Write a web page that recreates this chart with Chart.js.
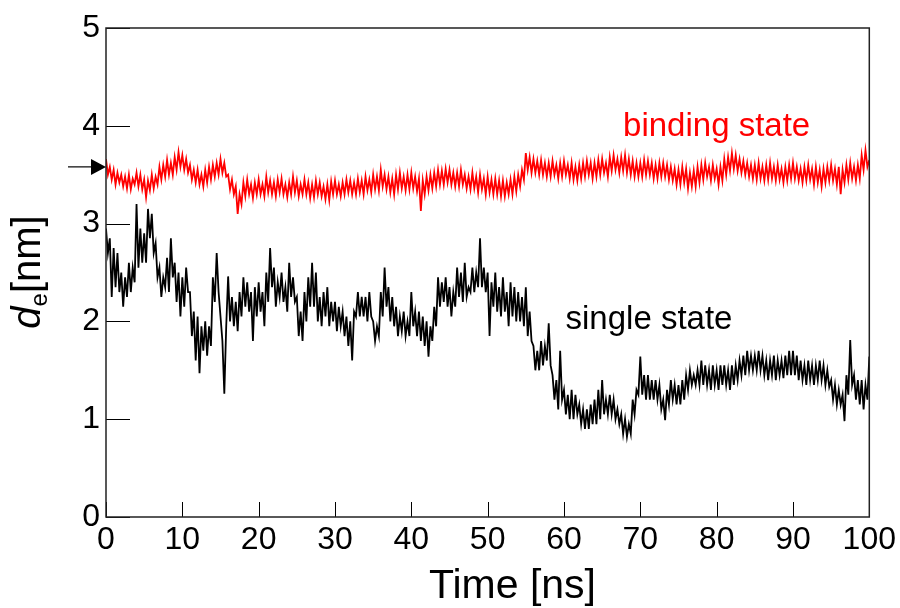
<!DOCTYPE html>
<html>
<head>
<meta charset="utf-8">
<script src="https://cdn.jsdelivr.net/npm/chart.js@4.4.1/dist/chart.umd.min.js"></script>
<style>
  html, body { margin: 0; padding: 0; background: #fff; }
  #wrap { width: 900px; height: 608px; }
</style>
</head>
<body>
<div id="wrap"><canvas id="chart" width="900" height="608"></canvas></div>
<script>
// sampling step of both traces, ns
const timeStep = 0.25;

// binding state (red), one row per ns, values in nm
const bindingState = [
  3.66, 3.50, 3.58, 3.45,  3.55, 3.40, 3.52, 3.42,  3.50, 3.38, 3.48, 3.36,  3.50, 3.35, 3.46, 3.40,
  3.52, 3.38, 3.50, 3.35,  3.45, 3.27, 3.44, 3.34,  3.50, 3.36, 3.48, 3.40,  3.58, 3.45, 3.60, 3.48,
  3.65, 3.50, 3.62, 3.50,  3.68, 3.55, 3.73, 3.58,  3.70, 3.55, 3.66, 3.52,  3.60, 3.45, 3.55, 3.42,
  3.55, 3.40, 3.50, 3.38,  3.55, 3.42, 3.58, 3.45,  3.60, 3.48, 3.62, 3.50,  3.66, 3.52, 3.62, 3.48,
  3.50, 3.35, 3.45, 3.30,  3.38, 3.10, 3.30, 3.20,  3.42, 3.28, 3.45, 3.30,  3.40, 3.26, 3.42, 3.30,
  3.45, 3.30, 3.40, 3.28,  3.48, 3.32, 3.44, 3.30,  3.42, 3.28, 3.45, 3.32,  3.46, 3.30, 3.40, 3.27,
  3.42, 3.30, 3.48, 3.32,  3.44, 3.28, 3.40, 3.30,  3.45, 3.30, 3.42, 3.26,  3.40, 3.27, 3.44, 3.30,
  3.42, 3.28, 3.38, 3.25,  3.40, 3.24, 3.43, 3.30,  3.44, 3.30, 3.40, 3.28,  3.42, 3.30, 3.45, 3.32,
  3.44, 3.30, 3.42, 3.30,  3.46, 3.32, 3.44, 3.30,  3.48, 3.34, 3.45, 3.32,  3.50, 3.35, 3.48, 3.34,
  3.55, 3.38, 3.50, 3.35,  3.48, 3.32, 3.46, 3.30,  3.50, 3.35, 3.52, 3.36,  3.48, 3.34, 3.50, 3.35,
  3.52, 3.36, 3.48, 3.33,  3.46, 3.13, 3.44, 3.30,  3.48, 3.34, 3.50, 3.36,  3.52, 3.38, 3.55, 3.40,
  3.54, 3.40, 3.56, 3.42,  3.55, 3.40, 3.52, 3.38,  3.52, 3.38, 3.55, 3.40,  3.50, 3.36, 3.48, 3.35,
  3.52, 3.36, 3.48, 3.32,  3.50, 3.35, 3.46, 3.30,  3.48, 3.32, 3.45, 3.30,  3.46, 3.30, 3.44, 3.28,
  3.44, 3.28, 3.42, 3.30,  3.45, 3.30, 3.48, 3.33,  3.50, 3.38, 3.55, 3.45,  3.72, 3.55, 3.68, 3.52,
  3.66, 3.52, 3.64, 3.50,  3.65, 3.50, 3.62, 3.48,  3.62, 3.48, 3.64, 3.50,  3.60, 3.46, 3.62, 3.48,
  3.64, 3.50, 3.60, 3.46,  3.62, 3.45, 3.58, 3.44,  3.60, 3.46, 3.62, 3.48,  3.64, 3.50, 3.62, 3.46,
  3.62, 3.48, 3.65, 3.50,  3.66, 3.52, 3.62, 3.48,  3.68, 3.54, 3.70, 3.55,  3.66, 3.52, 3.68, 3.54,
  3.70, 3.52, 3.66, 3.50,  3.64, 3.48, 3.62, 3.48,  3.62, 3.48, 3.65, 3.50,  3.64, 3.50, 3.62, 3.46,
  3.60, 3.46, 3.62, 3.48,  3.62, 3.48, 3.60, 3.45,  3.58, 3.44, 3.56, 3.40,  3.55, 3.40, 3.58, 3.42,
  3.56, 3.36, 3.52, 3.38,  3.54, 3.38, 3.58, 3.42,  3.60, 3.45, 3.62, 3.48,  3.58, 3.44, 3.60, 3.46,
  3.56, 3.40, 3.58, 3.44,  3.66, 3.50, 3.68, 3.54,  3.72, 3.56, 3.70, 3.54,  3.66, 3.52, 3.64, 3.50,
  3.62, 3.48, 3.60, 3.46,  3.60, 3.45, 3.62, 3.46,  3.58, 3.44, 3.60, 3.45,  3.62, 3.46, 3.58, 3.44,
  3.60, 3.45, 3.56, 3.42,  3.58, 3.44, 3.60, 3.46,  3.62, 3.46, 3.58, 3.44,  3.56, 3.42, 3.58, 3.44,
  3.60, 3.45, 3.56, 3.40,  3.58, 3.42, 3.55, 3.38,  3.56, 3.42, 3.58, 3.44,  3.60, 3.44, 3.56, 3.40,
  3.58, 3.30, 3.55, 3.42,  3.60, 3.45, 3.62, 3.46,  3.58, 3.44, 3.60, 3.46,  3.70, 3.55, 3.75, 3.58,
  3.65
];

// single state (black)
const singleState = [
  2.95, 2.70, 2.85, 2.25,  2.75, 2.35, 2.70, 2.30,  2.50, 2.15, 2.45, 2.25,  2.60, 2.30, 2.55, 2.40,
  3.20, 2.55, 2.95, 2.60,  2.90, 2.60, 3.15, 2.85,  3.10, 2.70, 2.80, 2.45,  2.55, 2.25, 2.45, 2.35,
  2.65, 2.30, 2.85, 2.45,  2.60, 2.20, 2.50, 2.05,  2.45, 2.15, 2.55, 2.30,  2.30, 1.85, 2.10, 1.60,
  2.05, 1.47, 1.95, 1.70,  2.00, 1.65, 1.95, 1.75,  2.45, 2.20, 2.70, 2.30,  2.05, 1.80, 1.26, 1.95,
  2.46, 2.00, 2.25, 1.95,  2.20, 1.90, 2.30, 2.05,  2.45, 2.15, 2.40, 2.10,  2.30, 1.80, 2.35, 2.05,
  2.40, 2.10, 2.30, 1.95,  2.50, 2.20, 2.75, 2.35,  2.55, 2.15, 2.40, 2.25,  2.50, 2.20, 2.35, 2.10,
  2.60, 2.25, 2.45, 2.20,  2.25, 1.85, 2.10, 1.80,  2.30, 2.00, 2.45, 2.15,  2.60, 2.15, 2.50, 2.00,
  2.25, 1.95, 2.30, 2.05,  2.35, 1.95, 2.20, 2.00,  2.20, 1.90, 2.15, 1.95,  2.10, 1.85, 2.05, 1.75,
  2.00, 1.60, 2.10, 2.05,  2.30, 2.05, 2.25, 2.05,  2.25, 2.00, 2.30, 2.05,  2.00, 1.80, 1.95, 1.85,
  2.30, 2.05, 2.55, 2.15,  2.35, 2.00, 2.25, 1.95,  2.15, 1.85, 2.05, 1.90,  2.10, 1.85, 2.00, 1.85,
  2.30, 1.95, 2.10, 1.85,  2.10, 1.80, 2.05, 1.75,  2.00, 1.64, 1.95, 1.80,  2.15, 1.95, 2.45, 2.15,
  2.40, 2.20, 2.45, 2.15,  2.35, 2.05, 2.30, 2.15,  2.55, 2.25, 2.50, 2.20,  2.60, 2.25, 2.35, 2.30,
  2.55, 2.30, 2.50, 2.35,  2.85, 2.35, 2.55, 2.30,  2.50, 1.85, 2.40, 2.15,  2.50, 2.10, 2.35, 2.05,
  2.45, 2.10, 2.30, 1.95,  2.40, 2.05, 2.35, 2.00,  2.30, 2.00, 2.25, 1.95,  2.35, 1.85, 2.10, 1.80,
  1.75, 1.50, 1.70, 1.50,  1.80, 1.55, 1.75, 1.60,  1.98, 1.55, 1.45, 1.20,  1.40, 1.10, 1.70, 1.20,
  1.30, 1.05, 1.25, 1.00,  1.30, 1.00, 1.25, 1.05,  1.15, 0.95, 1.10, 0.90,  1.10, 0.90, 1.15, 0.95,
  1.20, 0.95, 1.30, 1.00,  1.40, 1.05, 1.20, 1.05,  1.25, 1.05, 1.20, 1.00,  1.10, 0.95, 1.05, 0.85,
  1.00, 0.82, 0.95, 0.85,  1.20, 1.05, 1.30, 1.25,  1.64, 1.25, 1.45, 1.20,  1.45, 1.20, 1.40, 1.20,
  1.40, 1.20, 1.35, 1.10,  1.20, 0.99, 1.30, 1.15,  1.40, 1.20, 1.35, 1.15,  1.35, 1.15, 1.40, 1.20,
  1.45, 1.30, 1.50, 1.35,  1.45, 1.35, 1.50, 1.35,  1.60, 1.35, 1.55, 1.35,  1.50, 1.30, 1.55, 1.35,
  1.50, 1.30, 1.55, 1.35,  1.55, 1.35, 1.50, 1.30,  1.55, 1.35, 1.55, 1.40,  1.60, 1.45, 1.65, 1.45,
  1.70, 1.50, 1.65, 1.50,  1.65, 1.50, 1.70, 1.50,  1.65, 1.45, 1.60, 1.40,  1.60, 1.45, 1.65, 1.40,
  1.60, 1.45, 1.60, 1.42,  1.65, 1.45, 1.70, 1.45,  1.70, 1.45, 1.65, 1.40,  1.60, 1.40, 1.55, 1.35,
  1.60, 1.40, 1.55, 1.35,  1.55, 1.40, 1.60, 1.40,  1.55, 1.35, 1.50, 1.33,  1.40, 1.20, 1.35, 1.15,
  1.30, 1.15, 1.25, 0.98,  1.45, 1.25, 1.81, 1.35,  1.45, 1.20, 1.40, 1.15,  1.40, 1.10, 1.35, 1.20,
  1.64
];

// axes and annotations
const xTicks = [0, 10, 20, 30, 40, 50, 60, 70, 80, 90, 100];
const yTicks = [0, 1, 2, 3, 4, 5];
const markerLevel = 3.58;   // arrow on the left axis
const bindingLabel = { text: 'binding state', x: 80, y: 3.9 };
const singleLabel = { text: 'single state', x: 60.2, y: 1.92 };

const FONT = '"Liberation Sans", Arial, Helvetica, sans-serif';

function toPoints(values) {
    return values.map((v, i) => ({ x: i * timeStep, y: v }));
}

// frame, inward ticks, arrow, titles and in-plot labels
const rootStyle = {
    id: 'rootStyle',
    afterDraw(chart) {
        const { ctx, chartArea: a, scales: { x, y } } = chart;
        ctx.save();

        ctx.strokeStyle = '#000';
        ctx.lineWidth = 1;
        xTicks.forEach(t => {
            const px = Math.round(x.getPixelForValue(t)) + 0.5;
            ctx.beginPath();
            ctx.moveTo(px, a.bottom);
            ctx.lineTo(px, a.bottom - 15);
            ctx.stroke();
        });
        yTicks.forEach(t => {
            const py = Math.round(y.getPixelForValue(t)) + 0.5;
            ctx.beginPath();
            ctx.moveTo(a.left, py);
            ctx.lineTo(a.left + 24, py);
            ctx.stroke();
        });

        ctx.strokeStyle = '#222';
        ctx.lineWidth = 1.5;
        ctx.strokeRect(a.left, a.top, a.right - a.left, a.bottom - a.top);

        // arrow marking the reference level
        const my = y.getPixelForValue(markerLevel);
        ctx.strokeStyle = '#000';
        ctx.lineWidth = 1.2;
        ctx.beginPath();
        ctx.moveTo(a.left - 38, my);
        ctx.lineTo(a.left - 10, my);
        ctx.stroke();
        ctx.fillStyle = '#000';
        ctx.beginPath();
        ctx.moveTo(a.left, my);
        ctx.lineTo(a.left - 15, my - 8);
        ctx.lineTo(a.left - 15, my + 8);
        ctx.closePath();
        ctx.fill();

        // in-plot labels
        ctx.font = '33px ' + FONT;
        ctx.textAlign = 'center';
        ctx.textBaseline = 'alphabetic';
        ctx.fillStyle = '#ff0000';
        ctx.fillText(bindingLabel.text, x.getPixelForValue(bindingLabel.x), y.getPixelForValue(bindingLabel.y));
        ctx.fillStyle = '#000';
        ctx.textAlign = 'left';
        ctx.fillText(singleLabel.text, x.getPixelForValue(singleLabel.x), y.getPixelForValue(singleLabel.y));

        // x title
        ctx.font = '41px ' + FONT;
        ctx.textAlign = 'right';
        ctx.fillText('Time [ns]', 596, 598);

        // y title: d_e[nm], rotated
        ctx.translate(40, 272);
        ctx.rotate(-Math.PI / 2);
        const parts = [
            { t: 'd', f: 'italic 40px ' + FONT, dy: 0 },
            { t: 'e', f: '24px ' + FONT, dy: 7 },
            { t: '[nm]', f: '40px ' + FONT, dy: 0 }
        ];
        let total = 0;
        parts.forEach(p => { ctx.font = p.f; total += ctx.measureText(p.t).width; });
        let cx = -total / 2;
        ctx.textAlign = 'left';
        parts.forEach(p => {
            ctx.font = p.f;
            ctx.fillText(p.t, cx, p.dy);
            cx += ctx.measureText(p.t).width;
        });

        ctx.restore();
    }
};

new Chart(document.getElementById('chart'), {
    type: 'line',
    data: {
        datasets: [
            {
                label: 'binding state',
                data: toPoints(bindingState),
                borderColor: '#ff0000',
                borderWidth: 1.8,
                pointRadius: 0,
                tension: 0
            },
            {
                label: 'single state',
                data: toPoints(singleState),
                borderColor: '#000000',
                borderWidth: 1.8,
                pointRadius: 0,
                tension: 0
            }
        ]
    },
    options: {
        responsive: false,
        animation: false,
        layout: { padding: { left: 0, right: 29, top: 28, bottom: 0 } },
        plugins: {
            legend: { display: false },
            tooltip: { enabled: false }
        },
        scales: {
            x: {
                type: 'linear',
                min: 0,
                max: 100,
                afterBuildTicks: s => { s.ticks = xTicks.map(v => ({ value: v })); },
                afterFit: s => { s.height = 91; },
                grid: { display: false, drawTicks: false },
                border: { display: false },
                ticks: {
                    color: '#000',
                    padding: 4,
                    maxRotation: 0,
                    font: { family: FONT, size: 32 }
                }
            },
            y: {
                type: 'linear',
                min: 0,
                max: 5,
                afterBuildTicks: s => { s.ticks = yTicks.map(v => ({ value: v })); },
                afterFit: s => { s.width = 106; },
                grid: { display: false, drawTicks: false },
                border: { display: false },
                ticks: {
                    color: '#000',
                    padding: 6,
                    font: { family: FONT, size: 32 }
                }
            }
        }
    },
    plugins: [rootStyle]
});
</script>
</body>
</html>
